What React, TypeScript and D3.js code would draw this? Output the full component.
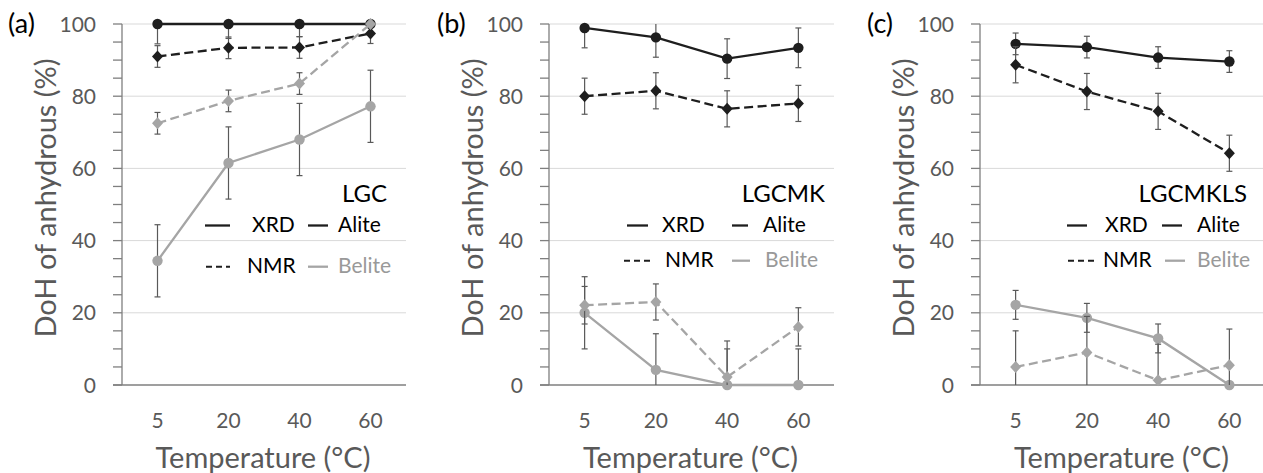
import React from "react";
import * as d3 from "d3";

const temps = ["5", "20", "40", "60"];
const yTicksMajor = [0, 20, 40, 60, 80, 100];
const yTicksMinor = [0, 5, 10, 15, 20, 25, 30, 35, 40, 45, 50, 55, 60, 65, 70, 75, 80, 85, 90, 95, 100];

// LGC
const lgcXrdAlite = [100, 100, 100, 100];
const lgcXrdAliteErr = [5.5, 4, 3.5, 0];
const lgcNmrAlite = [91, 93.4, 93.5, 97.4];
const lgcNmrAliteErr = [3, 3, 3, 2.8];
const lgcXrdBelite = [34.4, 61.5, 68, 77.2];
const lgcXrdBeliteErr = [10, 10, 10, 10];
const lgcNmrBelite = [72.5, 78.7, 83.5, 100];
const lgcNmrBeliteErr = [3, 3, 3, 0];

// LGCMK
const lgcmkXrdAlite = [98.9, 96.3, 90.4, 93.4];
const lgcmkXrdAliteErr = [5.5, 5.5, 5.5, 5.5];
const lgcmkNmrAlite = [80, 81.5, 76.5, 78];
const lgcmkNmrAliteErr = [5, 5, 5, 5];
const lgcmkXrdBelite = [20, 4.2, 0, 0];
const lgcmkXrdBeliteErr = [10, 10, 10, 10];
const lgcmkNmrBelite = [22.1, 23, 2.2, 16.1];
const lgcmkNmrBeliteErr = [5.2, 5, 10, 5.3];

// LGCMKLS
const lgcmklsXrdAlite = [94.5, 93.6, 90.7, 89.6];
const lgcmklsXrdAliteErr = [3, 3, 3, 3];
const lgcmklsNmrAlite = [88.7, 81.3, 75.8, 64.2];
const lgcmklsNmrAliteErr = [5, 5, 5, 5];
const lgcmklsXrdBelite = [22.2, 18.6, 12.9, 0];
const lgcmklsXrdBeliteErr = [4, 4, 4, 0];
const lgcmklsNmrBelite = [5, 9, 1.3, 5.5];
const lgcmklsNmrBeliteErr = [10, 10, 10, 10];

const BLACK = "#1e1e1e";
const GRAY = "#a5a5a5";
const AXIS = "#7f7f7f";
const TEXT = "#595959";
const ERR = "#595959";
const FONT = "Lato, 'Open Sans', sans-serif";

type Series = { values: number[]; err: number[]; color: string; dashed: boolean; marker: "circle" | "diamond" };

const panels = [
  {
    label: "(a)", name: "LGC", x0: 122, x1: 406, labelX: 8,
    series: [
      { values: lgcXrdAlite, err: lgcXrdAliteErr, color: BLACK, dashed: false, marker: "circle" },
      { values: lgcNmrAlite, err: lgcNmrAliteErr, color: BLACK, dashed: true, marker: "diamond" },
      { values: lgcXrdBelite, err: lgcXrdBeliteErr, color: GRAY, dashed: false, marker: "circle" },
      { values: lgcNmrBelite, err: lgcNmrBeliteErr, color: GRAY, dashed: true, marker: "diamond" },
    ] as Series[],
    leg: { nameRight: 265, l1: [83, 108], xrd: 130, l2: [186, 206], alite: 216, d1: [84, 108], nmr: 125, l3: [186, 206], belite: 216, row2: 272.7 },
  },
  {
    label: "(b)", name: "LGCMK", x0: 549, x1: 834, labelX: 437,
    series: [
      { values: lgcmkXrdAlite, err: lgcmkXrdAliteErr, color: BLACK, dashed: false, marker: "circle" },
      { values: lgcmkNmrAlite, err: lgcmkNmrAliteErr, color: BLACK, dashed: true, marker: "diamond" },
      { values: lgcmkXrdBelite, err: lgcmkXrdBeliteErr, color: GRAY, dashed: false, marker: "circle" },
      { values: lgcmkNmrBelite, err: lgcmkNmrBeliteErr, color: GRAY, dashed: true, marker: "diamond" },
    ] as Series[],
    leg: { nameRight: 276, l1: [78, 99], xrd: 113, l2: [183, 199], alite: 214, d1: [75, 103], nmr: 116, l3: [183, 201], belite: 216, row2: 266.7 },
  },
  {
    label: "(c)", name: "LGCMKLS", x0: 980, x1: 1265, labelX: 867,
    series: [
      { values: lgcmklsXrdAlite, err: lgcmklsXrdAliteErr, color: BLACK, dashed: false, marker: "circle" },
      { values: lgcmklsNmrAlite, err: lgcmklsNmrAliteErr, color: BLACK, dashed: true, marker: "diamond" },
      { values: lgcmklsXrdBelite, err: lgcmklsXrdBeliteErr, color: GRAY, dashed: false, marker: "circle" },
      { values: lgcmklsNmrBelite, err: lgcmklsNmrBeliteErr, color: GRAY, dashed: true, marker: "diamond" },
    ] as Series[],
    leg: { nameRight: 267, l1: [87, 107], xrd: 125, l2: [182, 202], alite: 217, d1: [88, 115], nmr: 123, l3: [185, 205], belite: 217, row2: 266.7 },
  },
];

const TOP = 24;
const BOTTOM = 385;

function Panel({ p }: { p: (typeof panels)[number] }) {
  const x = d3.scaleBand<string>().domain(temps).range([p.x0, p.x1]);
  const cx = (t: string) => (x(t) as number) + x.bandwidth() / 2;
  const y = d3.scaleLinear().domain([0, 100]).range([BOTTOM, TOP]);
  const clampY = (v: number) => y(Math.max(0, Math.min(100, v)));
  const line = d3.line<number>().x((_, i) => cx(temps[i])).y((v) => y(v));
  const x0 = p.x0;
  const L = p.leg;
  return (
    <g>
      {yTicksMajor.filter((t) => t > 0).map((t) => (
        <line key={"g" + t} x1={p.x0} x2={p.x1} y1={y(t)} y2={y(t)} stroke="#d9d9d9" strokeWidth={1} />
      ))}
      {yTicksMinor.map((t) => (
        <line key={"m" + t} x1={p.x0 - 9} x2={p.x0} y1={y(t)} y2={y(t)} stroke={AXIS} strokeWidth={1.3} />
      ))}
      <line x1={p.x0} x2={p.x0} y1={y(100)} y2={y(0)} stroke={AXIS} strokeWidth={1.3} />
      <line x1={p.x0 - 9} x2={p.x1} y1={y(0)} y2={y(0)} stroke={AXIS} strokeWidth={1.3} />
      {yTicksMajor.map((t) => (
        <text key={"t" + t} x={p.x0 - 26} y={y(t) + 7.5} textAnchor="end" fontSize={21} fill={TEXT} fontFamily={FONT}>{t}</text>
      ))}
      {temps.map((t) => (
        <text key={"x" + t} x={cx(t)} y={428} textAnchor="middle" fontSize={21} fill={TEXT} fontFamily={FONT}>{t}</text>
      ))}
      <text x={(p.x0 + p.x1) / 2 - 1} y={468} textAnchor="middle" fontSize={29} fill={TEXT} fontFamily={FONT}>Temperature (°C)</text>
      <text transform={`translate(${p.x0 - 66},198) rotate(-90)`} textAnchor="middle" fontSize={29} fill={TEXT} fontFamily={FONT}>DoH of anhydrous (%)</text>
      <text x={p.labelX} y={33} fontSize={27} fill="#000" fontFamily={FONT}>{p.label}</text>

      {/* legend */}
      <text x={x0 + L.nameRight} y={201.7} textAnchor="end" fontSize={24} fill="#000" fontFamily={FONT}>{p.name}</text>
      <line x1={x0 + L.l1[0]} x2={x0 + L.l1[1]} y1={225.5} y2={225.5} stroke={BLACK} strokeWidth={2.3} />
      <text x={x0 + L.xrd} y={231.7} fontSize={21} fill="#000" fontFamily={FONT}>XRD</text>
      <line x1={x0 + L.l2[0]} x2={x0 + L.l2[1]} y1={225.5} y2={225.5} stroke={BLACK} strokeWidth={2.3} />
      <text x={x0 + L.alite} y={231.7} fontSize={21} fill="#000" fontFamily={FONT}>Alite</text>
      <line x1={x0 + L.d1[0]} x2={x0 + L.d1[1]} y1={L.row2 - 6} y2={L.row2 - 6} stroke={BLACK} strokeWidth={2} strokeDasharray="6,4" />
      <text x={x0 + L.nmr} y={L.row2} fontSize={21} fill="#000" fontFamily={FONT}>NMR</text>
      <line x1={x0 + L.l3[0]} x2={x0 + L.l3[1]} y1={L.row2 - 6} y2={L.row2 - 6} stroke={GRAY} strokeWidth={2.3} />
      <text x={x0 + L.belite} y={L.row2} fontSize={21} fill="#999" fontFamily={FONT}>Belite</text>

      {p.series.map((s, si) => (
        <g key={"s" + si}>
          {s.values.map((v, i) => {
            const e = s.err[i];
            if (!e) return null;
            const X = cx(temps[i]);
            const hi = v + e, lo = v - e;
            return (
              <g key={"e" + i}>
                <line x1={X} x2={X} y1={clampY(hi)} y2={clampY(lo)} stroke={ERR} strokeWidth={1.2} />
                {hi <= 100 && <line x1={X - 3} x2={X + 3} y1={y(hi)} y2={y(hi)} stroke={ERR} strokeWidth={1.2} />}
                {lo >= 0 && <line x1={X - 3} x2={X + 3} y1={y(lo)} y2={y(lo)} stroke={ERR} strokeWidth={1.2} />}
              </g>
            );
          })}
          <path d={line(s.values) as string} fill="none" stroke={s.color} strokeWidth={2.3} strokeDasharray={s.dashed ? "9,4.5" : undefined} />
          {s.values.map((v, i) => {
            const X = cx(temps[i]);
            const Y = y(v);
            return s.marker === "circle" ? (
              <circle key={"c" + i} cx={X} cy={Y} r={5.2} fill={s.color} />
            ) : (
              <path key={"d" + i} d={`M${X},${Y - 6}L${X + 5.5},${Y}L${X},${Y + 6}L${X - 5.5},${Y}Z`} fill={s.color} />
            );
          })}
        </g>
      ))}
    </g>
  );
}

export default function App() {
  return (
    <svg width={1263} height={473} style={{ position: "absolute", left: 0, top: 0, background: "#fff" }}>
      <rect width={1263} height={473} fill="#fff" />
      {panels.map((p) => (
        <Panel key={p.name} p={p} />
      ))}
    </svg>
  );
}
